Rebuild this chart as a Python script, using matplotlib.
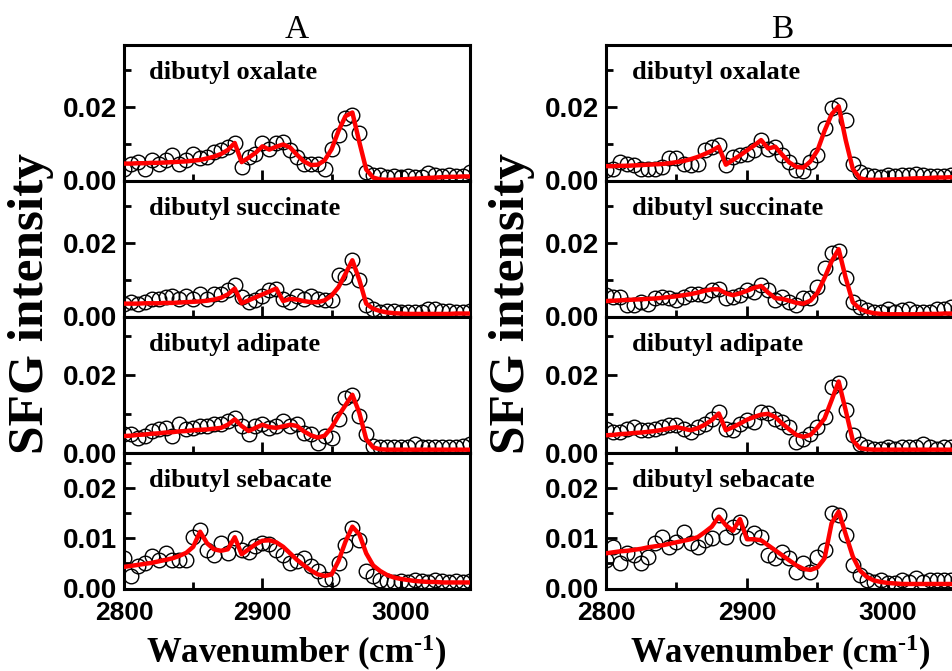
import numpy as np
import matplotlib
matplotlib.use("Agg")
import matplotlib.pyplot as plt
from matplotlib.ticker import MultipleLocator, FormatStrFormatter

plt.rcParams['mathtext.fontset'] = 'custom'
plt.rcParams['mathtext.rm'] = 'Liberation Serif:bold'
plt.rcParams['mathtext.bf'] = 'Liberation Serif:bold'
plt.rcParams['mathtext.it'] = 'Liberation Serif:bold'
plt.rcParams['mathtext.default'] = 'bf'

# wavenumber grid (cm^-1)
wavenumber = np.arange(2800, 3051, 5)

compounds = ["dibutyl oxalate", "dibutyl succinate", "dibutyl adipate", "dibutyl sebacate"]
columns = ["A", "B"]

# SFG intensity values in units of 1e-3
A_oxalate_data = [3.2,4.6,5.0,3.2,5.5,4.6,5.5,6.9,4.6,5.5,7.3,6.0,6.4,7.8,8.3,9.2,10.1,3.7,6.4,7.3,
                  10.1,8.7,10.1,10.6,8.3,6.4,4.6,4.6,4.6,3.2,8.7,12.4,17.0,17.9,12.8,2.3,1.4,1.4,0.9,1.1,
                  0.9,1.1,0.9,0.9,2.0,1.4,1.1,1.4,1.1,1.1,2.3]
A_oxalate_fit = [4.6,4.6,4.7,4.7,4.8,4.8,4.9,5.0,5.1,5.2,5.4,5.6,6.0,6.5,7.2,8.3,10.2,5.0,6.2,7.5,
                 9.3,8.4,9.2,9.8,9.0,7.0,5.2,4.2,4.3,5.5,8.5,13.5,17.5,18.5,10.5,3.0,0.8,0.3,0.2,0.2,
                 0.3,0.4,0.5,0.6,0.7,0.8,0.9,1.0,1.0,1.1,1.1]
A_succinate_data = [3.5,3.9,3.5,3.9,4.8,4.8,5.3,5.7,4.8,5.7,4.8,6.2,4.8,6.2,6.2,7.1,8.5,5.3,3.9,4.4,
                    5.7,7.1,7.5,4.8,3.9,5.7,4.8,5.7,4.8,4.4,4.4,11.2,10.7,15.3,9.8,3.0,2.1,1.2,1.6,1.6,
                    1.2,1.2,1.2,1.2,2.1,2.1,1.6,1.6,1.2,1.2,1.6]
A_succinate_fit = [3.5,3.5,3.5,3.6,3.6,3.6,3.7,3.7,3.8,3.9,4.0,4.1,4.3,4.6,5.1,6.0,7.6,3.6,4.4,5.2,
                   6.0,6.8,7.6,4.2,4.8,4.6,4.2,3.9,3.9,4.4,5.7,8.0,11.6,15.3,10.0,3.5,2.1,1.5,1.1,0.9,
                   0.8,0.7,0.7,0.7,0.7,0.7,0.7,0.7,0.8,0.8,0.8]
A_adipate_data = [4.7,4.7,3.9,4.3,5.6,6.0,6.4,4.3,7.3,6.0,6.4,6.9,6.9,7.3,7.3,8.1,9.0,6.9,4.7,6.9,
                  7.3,6.4,6.9,8.1,6.9,7.3,5.2,4.7,2.6,4.3,3.9,8.6,14.1,14.9,9.4,4.7,1.8,1.4,1.4,1.4,
                  1.4,1.4,2.2,1.4,1.4,1.4,1.4,1.4,1.4,1.8,2.2]
A_adipate_fit = [4.3,4.4,4.6,4.7,4.9,5.0,5.2,5.3,5.5,5.6,5.8,5.9,6.0,6.2,6.4,7.2,8.6,6.9,5.6,6.4,
                 7.2,6.6,6.4,6.8,7.2,6.9,5.5,4.5,3.9,4.4,6.5,9.5,12.2,14.9,10.3,3.5,1.4,0.9,0.8,0.8,
                 0.8,0.8,0.8,0.8,0.8,0.8,0.8,0.8,0.8,0.8,0.8]
A_sebacate_data = [6.1,2.4,4.4,5.1,6.4,5.7,7.1,5.7,5.7,5.7,10.3,11.7,7.7,6.7,9.1,7.1,10.1,7.7,7.3,8.5,
                   9.1,8.9,7.7,6.7,5.1,5.4,6.1,4.5,3.5,1.8,1.8,5.0,8.7,12.1,9.7,3.5,2.4,1.7,1.4,1.2,
                   1.4,1.2,1.7,1.4,1.2,1.7,1.4,1.2,1.4,1.2,1.4]
A_sebacate_fit = [4.3,4.5,4.7,4.9,5.1,5.4,5.7,6.0,6.5,7.1,8.3,11.3,9.0,7.8,7.5,7.8,10.2,6.8,7.8,8.8,
                  9.5,9.6,9.2,8.3,7.0,5.7,4.6,3.6,2.8,2.5,2.8,5.5,9.3,12.3,10.8,7.0,4.6,3.5,2.7,2.2,
                  1.9,1.7,1.5,1.4,1.3,1.3,1.2,1.2,1.2,1.2,1.2]

B_oxalate_data = [2.8,3.2,5.0,4.6,4.1,3.2,3.2,3.2,3.7,6.0,6.0,4.6,4.1,4.6,8.3,9.2,9.6,4.1,6.4,6.9,
                  7.3,8.3,11.0,8.7,9.2,6.9,5.0,2.8,2.5,5.0,6.9,14.2,19.7,20.6,16.5,4.6,2.3,1.4,1.1,1.0,
                  1.4,1.1,1.4,1.4,1.8,1.4,1.1,1.1,1.1,1.4,1.8]
B_oxalate_fit = [3.9,3.9,4.0,4.0,4.1,4.2,4.3,4.4,4.5,4.7,5.0,5.3,5.8,6.4,7.2,8.1,9.2,4.3,5.6,6.8,
                 8.2,9.5,11.0,8.7,9.2,7.0,4.9,3.7,3.5,5.2,8.2,13.5,18.0,20.2,11.0,3.2,0.6,0.2,0.2,0.2,
                 0.3,0.3,0.4,0.5,0.6,0.6,0.7,0.8,0.8,0.9,0.9]
B_succinate_data = [5.8,5.3,5.3,3.0,3.0,3.9,3.5,4.9,5.3,4.9,4.4,5.3,6.2,6.2,5.8,7.2,7.6,4.9,5.3,5.8,
                    7.2,6.7,8.5,7.2,4.4,5.3,3.9,3.0,4.9,4.9,8.1,13.1,17.2,17.7,10.4,3.9,2.6,1.7,1.2,1.2,
                    2.1,1.2,1.7,2.1,1.2,1.2,1.2,2.1,2.1,2.6,2.1]
B_succinate_fit = [4.2,4.3,4.4,4.5,4.6,4.7,4.8,4.9,5.1,5.3,5.5,5.8,6.1,6.5,7.0,7.4,7.4,6.3,5.8,6.3,
                   7.0,7.8,8.3,6.5,5.0,4.8,4.3,3.7,3.5,4.3,6.5,10.5,15.0,18.3,10.5,3.9,2.1,1.3,0.9,0.7,
                   0.6,0.6,0.6,0.6,0.6,0.7,0.7,0.7,0.8,0.8,0.8]
B_adipate_data = [6.2,5.3,5.3,6.2,6.6,5.8,5.8,6.2,6.6,7.1,7.1,6.2,5.3,6.6,7.5,8.8,10.5,6.2,5.8,7.5,
                  8.4,7.9,10.5,10.1,8.8,7.9,6.6,2.8,3.6,4.9,6.6,9.2,17.0,17.8,10.9,4.5,2.3,1.5,1.0,1.0,
                  1.4,1.0,1.4,1.4,1.4,2.3,1.4,1.0,1.4,1.4,1.4]
B_adipate_fit = [4.5,4.6,4.8,4.9,5.1,5.2,5.4,5.6,5.9,6.3,6.6,6.2,5.8,6.3,7.2,8.4,10.1,5.8,6.6,7.5,
                 8.5,9.2,9.8,10.0,9.2,7.5,6.0,4.6,4.1,4.6,6.5,8.8,13.5,18.3,10.9,3.2,1.2,0.9,0.8,0.8,
                 0.8,0.8,0.8,0.8,0.8,0.8,0.8,0.8,0.8,0.8,0.8]
B_sebacate_data = [5.7,8.3,5.0,7.0,6.7,5.0,6.3,9.0,10.3,8.3,9.3,11.3,9.0,8.3,9.7,10.0,14.7,10.3,12.3,13.3,
                   10.0,11.0,10.3,6.7,6.0,7.3,6.0,3.3,5.0,3.3,6.3,7.7,15.0,14.7,10.7,4.7,2.7,1.7,1.3,1.7,
                   1.0,1.0,1.7,1.3,2.0,1.3,1.7,1.7,1.7,1.7,1.7]
B_sebacate_fit = [7.0,7.2,7.4,7.5,7.7,7.9,8.2,8.4,8.6,8.9,9.2,9.5,9.8,10.2,11.2,12.3,14.3,12.6,11.5,13.8,
                  9.8,9.8,9.6,8.6,7.6,6.6,5.6,4.6,3.9,3.7,4.2,6.0,13.0,15.3,10.8,6.4,3.6,2.3,1.6,1.3,
                  1.1,1.0,0.9,0.9,0.9,0.9,0.9,0.9,0.9,0.9,0.9]

data = {
    "A": [(A_oxalate_data, A_oxalate_fit), (A_succinate_data, A_succinate_fit),
          (A_adipate_data, A_adipate_fit), (A_sebacate_data, A_sebacate_fit)],
    "B": [(B_oxalate_data, B_oxalate_fit), (B_succinate_data, B_succinate_fit),
          (B_adipate_data, B_adipate_fit), (B_sebacate_data, B_sebacate_fit)],
}
ymax = [0.037, 0.037, 0.035, 0.027]
ymajor = [0.02, 0.02, 0.02, 0.01]
yminor = [0.01, 0.01, 0.01, 0.005]

W, H = 953, 671
fig = plt.figure(figsize=(W / 100, H / 100), dpi=100)
col_x = {"A": (124, 470), "B": (606, 958.5)}
edges = [44.5, 180.5, 316.5, 452.8, 588.5]
serif = "Liberation Serif"
sans = "Liberation Sans"

for col in columns:
    x0, x1 = col_x[col]
    for r in range(4):
        y0, y1 = edges[r], edges[r + 1]
        ax = fig.add_axes([x0 / W, 1 - y1 / H, (x1 - x0) / W, (y1 - y0) / H])
        dat, fit = data[col][r]
        ax.plot(wavenumber, np.array(dat) * 1e-3, 'o', mfc='none', mec='black',
                ms=10.5, mew=1.0, zorder=2)
        ax.plot(wavenumber, np.array(fit) * 1e-3, '-', color='red', lw=3.2, zorder=3)
        ax.set_xlim(2800, 3050)
        ax.set_ylim(0, ymax[r])
        ax.xaxis.set_major_locator(MultipleLocator(100))
        ax.xaxis.set_minor_locator(MultipleLocator(50))
        ax.yaxis.set_major_locator(MultipleLocator(ymajor[r]))
        ax.yaxis.set_minor_locator(MultipleLocator(yminor[r]))
        ax.yaxis.set_major_formatter(FormatStrFormatter('%.2f'))
        ax.tick_params(which='both', direction='in', top=False, right=False, width=2)
        ax.tick_params(which='major', length=8)
        ax.tick_params(which='minor', length=5)
        ax.tick_params(axis='y', which='major', pad=5)
        ax.tick_params(axis='x', which='major', pad=9)
        for s in ax.spines.values():
            s.set_linewidth(2.2)
        for lab in ax.get_yticklabels():
            lab.set_fontfamily(sans)
            lab.set_fontweight('bold')
            lab.set_fontsize(20)
        if r < 3:
            ax.tick_params(axis='x', labelbottom=False)
        else:
            for lab in ax.get_xticklabels():
                lab.set_fontfamily(sans)
                lab.set_fontweight('bold')
                lab.set_fontsize(19)
        ax.text(0.073, 0.745, compounds[r], transform=ax.transAxes, fontsize=19,
                fontweight='bold', family=serif, va='baseline', ha='left')
        if r == 0:
            ax.set_title(col, fontsize=24, family=serif, pad=2)
    # axis labels
    ylab_x = 31 if col == "A" else 512
    fig.text(ylab_x / W, 1 - 303 / H, 'SFG intensity', rotation=90, fontsize=37,
             fontweight='bold', family=serif, ha='center', va='center')
    xlab_x = 296 if col == "A" else 780
    fig.text(xlab_x / W, 1 - 663 / H, 'Wavenumber (cm$^{\u20101}$)', fontsize=25,
             fontweight='bold', family=serif, ha='center', va='baseline')

fig.savefig("out.png", dpi=100)
